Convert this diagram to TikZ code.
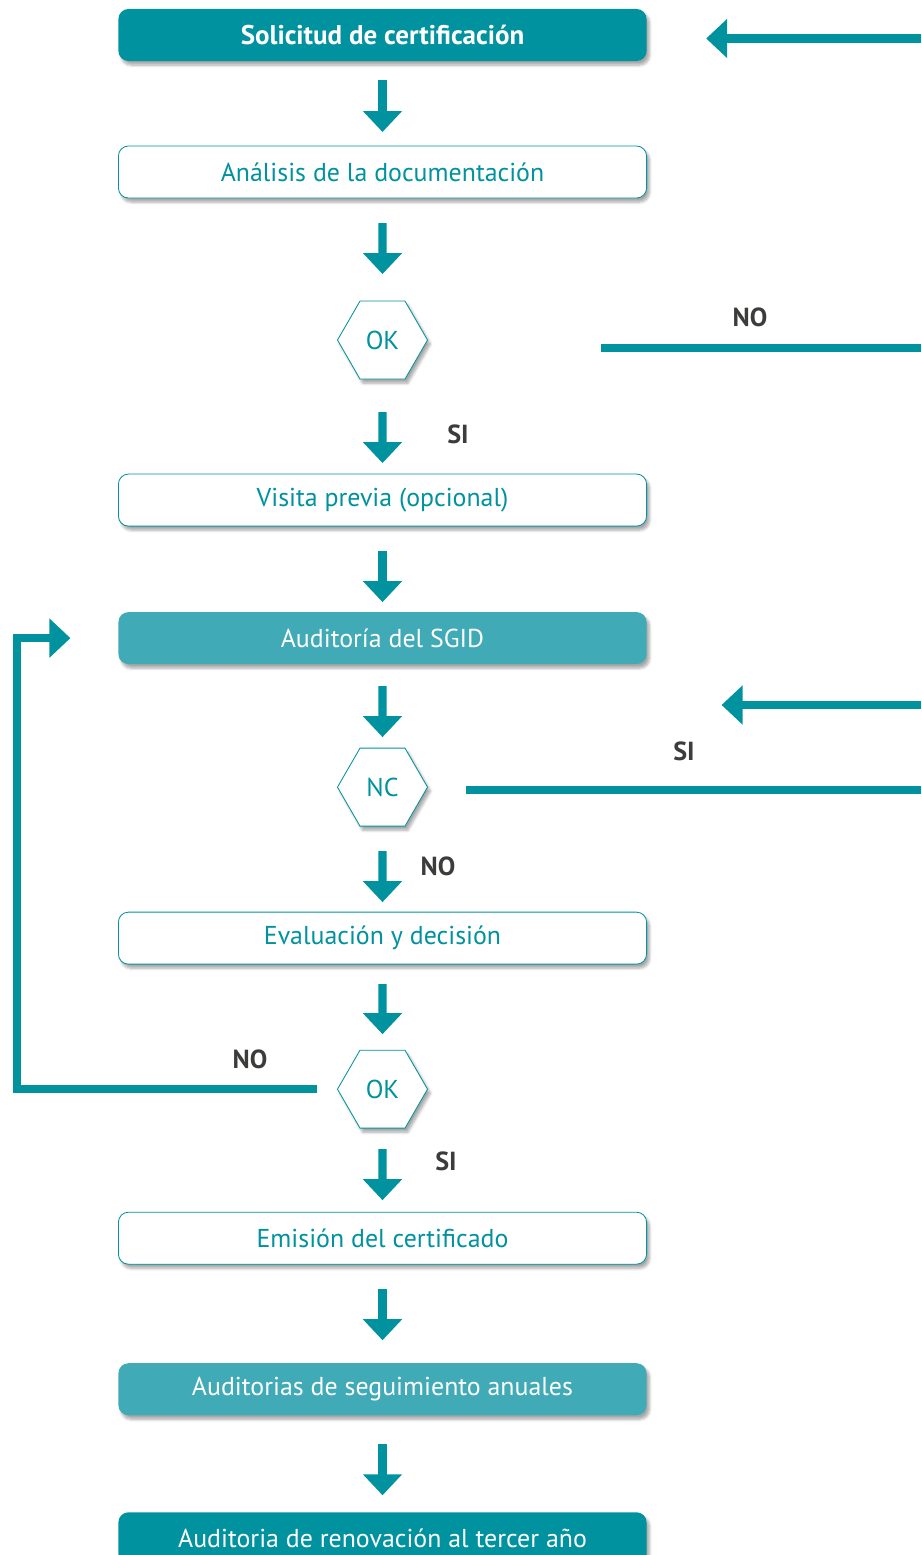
\documentclass[tikz,border=0pt]{standalone}
\usepackage{fontspec}
\setmainfont{PT Sans}
\usetikzlibrary{arrows.meta, positioning, shapes.geometric, shadows.blur}

\definecolor{tealOsc}{RGB}{0,146,158}
\definecolor{tealClaro}{RGB}{64,170,182}
\definecolor{grisEtiq}{RGB}{60,60,59}

\begin{document}
\begin{tikzpicture}[
  x=0.025cm, y=-0.025cm,
  font=\fontsize{18.4}{22}\selectfont,
  sombra/.style={
    blur shadow={shadow xshift=0.07cm, shadow yshift=-0.1cm,
      shadow blur steps=6, shadow opacity=35}
  },
  paso/.style={
    sombra, rounded corners=0.25cm, minimum width=13.2cm, minimum height=1.3cm,
    inner sep=2pt, outer sep=0pt, align=center
  },
  pasoBlanco/.style={paso, draw=tealOsc, line width=0.6pt, fill=white, text=tealOsc},
  pasoOsc/.style={paso, fill=tealOsc, text=white},
  pasoClaro/.style={paso, fill=tealClaro, text=white},
  decision/.style={
    sombra, regular polygon, regular polygon sides=6, minimum size=2.25cm,
    inner sep=0pt, outer sep=0pt, draw=tealOsc, line width=0.6pt,
    fill=white, text=tealOsc
  },
  flecha/.style={
    draw=tealOsc, line width=0.21cm,
    -{Triangle[length=0.525cm, width=0.95cm]}
  },
  linea/.style={draw=tealOsc, line width=0.21cm},
  etiq/.style={font=\fontsize{18.6}{22}\selectfont\bfseries, text=grisEtiq, inner sep=0pt}
]
\useasboundingbox (0,0) rectangle (921,1555);
\clip (0,0) rectangle (921,1555);

% pasos del proceso
\node[pasoOsc, font=\fontsize{19.2}{22}\selectfont\bfseries] (sol) at (382.5,35) {Solicitud de certificación};
\node[pasoBlanco, below=2.125cm of sol] (ana) {Análisis de la documentación};
\node[decision, below=2.575cm of ana] (ok1) {OK};
\node[pasoBlanco, below=2.375cm of ok1] (vis) {Visita previa (opcional)};
\node[pasoClaro, below=2.15cm of vis] (aud) {Auditoría del SGID};
\node[decision, below=2.1cm of aud] (nc) {NC};
\node[pasoBlanco, below=2.15cm of nc] (eva) {Evaluación y decisión};
\node[decision, below=2.15cm of eva] (ok2) {OK};
\node[pasoBlanco, below=2.1cm of ok2] (emi) {Emisión del certificado};
\node[pasoClaro, below=2.475cm of emi] (seg) {Auditorias de seguimiento anuales};
\node[pasoOsc, below=2.425cm of seg] (ren) {Auditoria de renovación al tercer año};

% extremos que salen por la derecha
\coordinate (entSol) at (921,38.5);
\coordinate (finNO) at (921,348);
\coordinate (entNC) at (921,705);
\coordinate (finNC) at (921,790);

% etiquetas
\node[etiq] (no1) at (750,317) {NO};
\node[etiq] (si1) at (458,434) {SI};
\node[etiq] (si2) at (684,751) {SI};
\node[etiq] (no2) at (438,866) {NO};
\node[etiq] (no3) at (250,1059) {NO};
\node[etiq] (si3) at (446,1161) {SI};

% flechas verticales
\draw[flecha, shorten <=0.475cm, shorten >=0.35cm] (sol) -- (ana);
\draw[flecha, shorten <=0.625cm, shorten >=0.675cm] (ana) -- (ok1);
\draw[flecha, shorten <=0.825cm, shorten >=0.275cm] (ok1) -- (vis);
\draw[flecha, shorten <=0.625cm, shorten >=0.25cm] (vis) -- (aud);
\draw[flecha, shorten <=0.55cm, shorten >=0.275cm] (aud) -- (nc);
\draw[flecha, shorten <=0.625cm, shorten >=0.25cm] (nc) -- (eva);
\draw[flecha, shorten <=0.5cm, shorten >=0.4cm] (eva) -- (ok2);
\draw[flecha, shorten <=0.525cm, shorten >=0.3cm] (ok2) -- (emi);
\draw[flecha, shorten <=0.625cm, shorten >=0.575cm] (emi) -- (seg);
\draw[flecha, shorten <=0.725cm, shorten >=0.425cm] (seg) -- (ren);

% retornos
\draw[flecha, shorten >=1.49cm] (entSol) -- (entSol -| sol.east);
\draw[linea, shorten >=4.325cm] (finNO) -- (finNO -| ok1.east);
\draw[flecha, shorten >=7.35cm] (entNC) -- (entNC -| nc.east);
\draw[linea, shorten >=0.95cm] (finNC) -- (finNC -| nc.east);
\draw[flecha, shorten <=0.5cm, shorten >=1.2cm]
  (ok2.west) -- ++(-320.5,0) |- (aud.west);
\end{tikzpicture}
\end{document}
